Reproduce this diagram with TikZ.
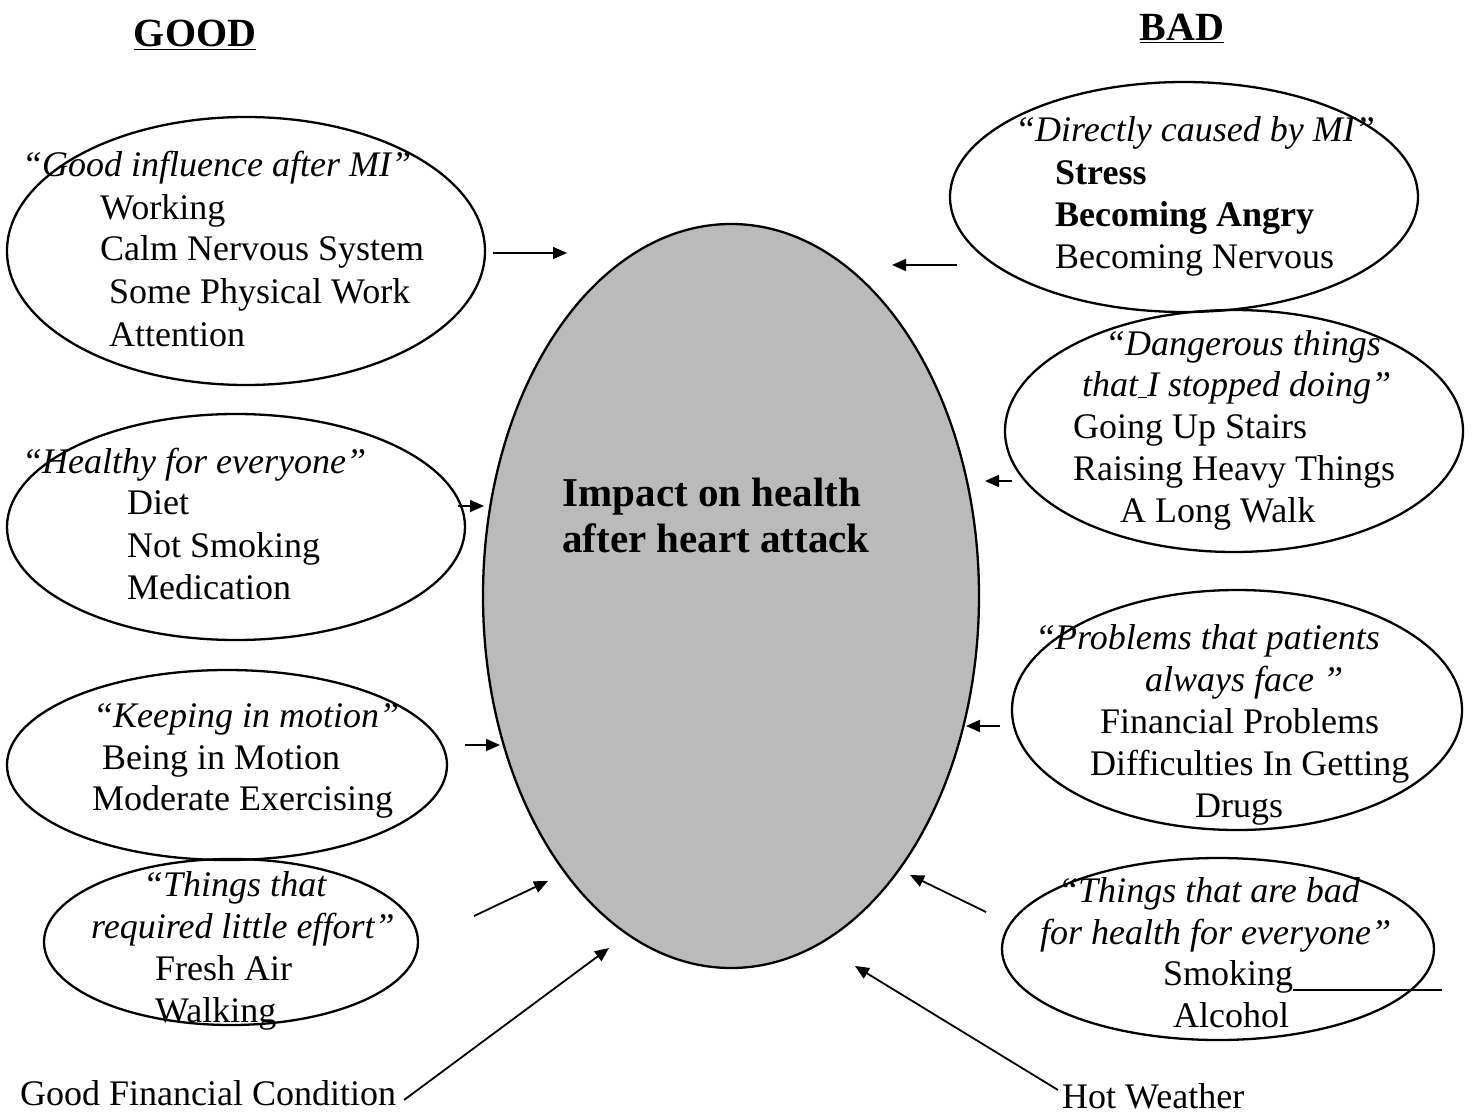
\documentclass[tikz,border=0pt]{standalone}
\usepackage{fontspec}
\setmainfont{Liberation Serif}
\usetikzlibrary{shapes.geometric,arrows.meta}
\definecolor{hgray}{RGB}{186,186,186}
\begin{document}
\begin{tikzpicture}[x=1pt,y=-1pt,
  bub/.style={draw,line width=2.3pt,ellipse,inner sep=0pt},
  txt/.style={anchor=base west,inner sep=0pt,font=\fontsize{36}{42}\selectfont},
  itx/.style={anchor=base west,inner sep=0pt,font=\fontsize{36}{42}\selectfont\itshape},
  bld/.style={anchor=base west,inner sep=0pt,font=\fontsize{36}{42}\selectfont\bfseries},
  head/.style={anchor=base,inner sep=0pt,font=\fontsize{40}{46}\selectfont\bfseries},
  arr/.style={line width=1.8pt,-{Triangle[length=14pt,width=12pt]}}]
\useasboundingbox (0,0) rectangle (1472,1115);

% headings
\node[head] (good) at (195,47) {\underline{GOOD}};
\node[head] (bad) at (1182,41) {\underline{BAD}};

% central ellipse
\node[bub,fill=hgray,minimum width=496pt,minimum height=744pt] (c) at (731,596) {};
\node[head,font=\fontsize{41}{46}\selectfont\bfseries] (c1) at (712,506) {Impact on health};
\node[head,font=\fontsize{41}{46}\selectfont\bfseries] (c2) at (716,552) {after heart attack};

% left ellipses
\node[bub,minimum width=478pt,minimum height=268pt] (e1) at (246,251) {};
\node[itx] (e1a) at (22,177) {“Good influence after MI”};
\node[txt] (e1b) at (100,220) {Working};
\node[txt] (e1c) at (100,261) {Calm Nervous System};
\node[txt] (e1d) at (109,304) {Some Physical Work};
\node[txt] (e1e) at (109,346) {Attention};

\node[bub,minimum width=458pt,minimum height=226pt] (e2) at (236,527) {};
\node[itx] (e2a) at (22,473) {“Healthy for everyone”};
\node[txt] (e2b) at (127,514) {Diet};
\node[txt] (e2c) at (127,557) {Not Smoking};
\node[txt] (e2d) at (127,599) {Medication};

\node[bub,minimum width=440pt,minimum height=190pt] (e3) at (227,765) {};
\node[itx] (e3a) at (93,727) {“Keeping in motion”};
\node[txt] (e3b) at (102,769) {Being in Motion};
\node[txt] (e3c) at (92,810) {Moderate Exercising};

\node[bub,minimum width=374pt,minimum height=166pt] (e4) at (231,942) {};
\node[itx] (e4a) at (143,896) {“Things that};
\node[itx] (e4b) at (91,938) {required little effort”};
\node[txt] (e4c) at (155,980) {Fresh Air};
\node[txt] (e4d) at (155,1022) {Walking};

% right ellipses
\node[bub,minimum width=468pt,minimum height=230pt] (r1) at (1184,197) {};
\node[itx] (r1a) at (1015,142) {“Directly caused by MI”};
\node[bld] (r1b) at (1055,185) {Stress};
\node[bld] (r1c) at (1055,227) {Becoming Angry};
\node[txt] (r1d) at (1055,269) {Becoming Nervous};

\node[bub,minimum width=458pt,minimum height=242pt] (r2) at (1234,431) {};
\node[itx] (r2a) at (1105,355) {“Dangerous things};
\node[itx] (r2b) at (1082,396) {that\underline{\ }I stopped doing”};
\node[txt] (r2c) at (1073,438) {Going Up Stairs};
\node[txt] (r2d) at (1073,480) {Raising Heavy Things};
\node[txt] (r2e) at (1120,522) {A Long Walk};

\node[bub,minimum width=450pt,minimum height=240pt] (r3) at (1237,710) {};
\node[itx] (r3a) at (1035,649) {“Problems that patients};
\node[itx] (r3b) at (1145,691) {always face ”};
\node[txt] (r3c) at (1100,733) {Financial Problems};
\node[txt] (r3d) at (1090,775) {Difficulties In Getting};
\node[txt] (r3e) at (1195,817) {Drugs};

\node[bub,minimum width=432pt,minimum height=182pt] (r4) at (1218,949) {};
\node[itx] (r4a) at (1058,902) {“Things that are bad};
\node[itx] (r4b) at (1040,944) {for health for everyone”};
\node[txt] (r4c) at (1163,985) {Smoking};
\node[txt] (r4d) at (1173,1027) {Alcohol};
\coordinate (sl) at (1442,990);
\draw[line width=1.8pt] (r4c.base east) ++(0,5) -- (sl |- 0,990);

% free labels
\node[txt] (gf) at (20,1105) {Good Financial Condition};
\node[txt] (hw) at (1062,1108) {Hot Weather};

% arrow coordinates
\coordinate (a1s) at (493,253); \coordinate (a1e) at (567,253);
\coordinate (a2s) at (957,265); \coordinate (a2e) at (892,265);
\coordinate (a3s) at (458,506); \coordinate (a3e) at (484,506);
\coordinate (a4s) at (465,745); \coordinate (a4e) at (500,745);
\coordinate (a5s) at (474,916); \coordinate (a5e) at (548,881);
\coordinate (a6s) at (986,912); \coordinate (a6e) at (910,875);
\coordinate (a7s) at (404,1100); \coordinate (a7e) at (609,948);
\coordinate (a8s) at (1058,1090); \coordinate (a8e) at (855,966);
\coordinate (a9s) at (1012,481); \coordinate (a9e) at (985,481);
\coordinate (a10s) at (1000,726); \coordinate (a10e) at (966,726);

\draw[arr] (a1s) -- (a1e);
\draw[arr] (a2s) -- (a2e);
\draw[arr] (a3s) -- (a3e);
\draw[arr] (a4s) -- (a4e);
\draw[arr] (a5s) -- (a5e);
\draw[arr] (a6s) -- (a6e);
\draw[arr] (a7s) -- (a7e);
\draw[arr] (a8s) -- (a8e);
\draw[arr] (a9s) -- (a9e);
\draw[arr] (a10s) -- (a10e);
\end{tikzpicture}
\end{document}
